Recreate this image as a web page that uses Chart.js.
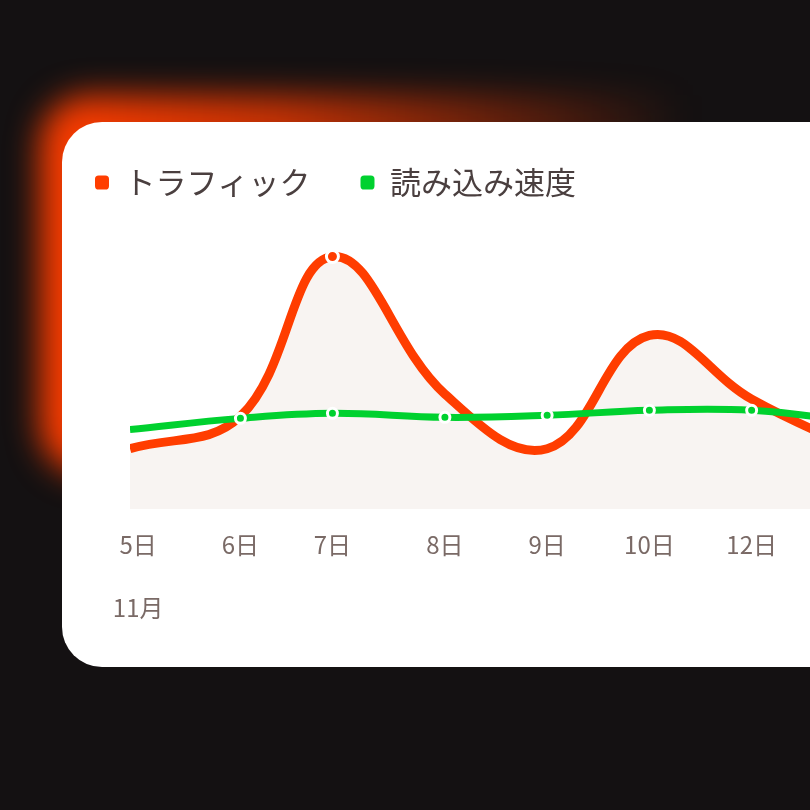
<!DOCTYPE html>
<html>
<head>
<meta charset="utf-8">
<script src="https://cdn.jsdelivr.net/npm/chart.js@4.4.0/dist/chart.umd.min.js"></script>
<style>
  html, body { margin: 0; width: 810px; height: 810px; overflow: hidden; background: #141112; }
  #glow { position: absolute; left: 40px; top: 95px; width: 680px; height: 380px; border-radius: 50px;
    background: linear-gradient(to right, #ff3d00 0%, rgba(255,61,0,0.75) 35%, rgba(255,61,0,0) 95%);
    filter: blur(16px); }
  #card { position: absolute; left: 62px; top: 122px; width: 900px; height: 545px; background: #fff; border-radius: 40px; }
  #wrap { position: absolute; left: 0; top: 117px; width: 913px; height: 518px; }
</style>
</head>
<body>
<div id="glow"></div>
<div id="card"></div>
<div id="wrap"><canvas id="chart"></canvas></div>
<script>
const tickPos = [0, 1, 1.9, 3, 4, 5, 6, 7];
const tickLabels = [['5日', '', '11月'], '6日', '7日', '8日', '9日', '10日', '12日', '13日'];
const pointX = [-0.08, 1, 1.9, 3, 4, 5, 6, 7];
const traffic = [60, 92, 250, 114, 60, 172, 109, 60];
const loadSpeed = [79, 90, 95, 91, 93, 98, 98, 87];

const toXY = vals => vals.map((v, i) => ({ x: pointX[i], y: v }));

new Chart(document.getElementById('chart'), {
    type: 'line',
    data: {
        datasets: [{
            label: 'トラフィック',
            data: toXY(traffic),
            borderColor: '#ff3d00',
            backgroundColor: '#ff5722',
            borderWidth: 9,
            tension: 0.4,
            fill: { target: 'origin', above: '#f8f4f2' },
            pointRadius: traffic.map((v, i) => i === 2 ? 6 : 0),
            pointBackgroundColor: '#ff3d00',
            pointBorderColor: '#fff',
            pointBorderWidth: 3,
            order: 2
        }, {
            label: '読み込み速度',
            data: toXY(loadSpeed),
            borderColor: '#00d12f',
            backgroundColor: '#00cc33',
            borderWidth: 7,
            tension: 0.4,
            fill: false,
            pointRadius: loadSpeed.map((v, i) => i === 0 ? 0 : 5),
            pointBackgroundColor: '#00d12f',
            pointBorderColor: '#fff',
            pointBorderWidth: 3,
            order: 1
        }]
    },
    options: {
        responsive: true,
        maintainAspectRatio: false,
        animation: false,
        layout: { padding: { left: 45, right: 0, top: 0, bottom: 0 } },
        plugins: {
            tooltip: { enabled: false },
            legend: {
                align: 'start',
                labels: {
                    usePointStyle: true,
                    pointStyle: 'rectRounded',
                    boxWidth: 14,
                    boxHeight: 14,
                    padding: 50,
                    color: '#4a3f3f',
                    font: { family: "'Noto Sans CJK JP', sans-serif", size: 31 },
                    sort: (a, b) => a.datasetIndex - b.datasetIndex
                }
            }
        },
        scales: {
            x: {
                type: 'linear',
                min: -0.08,
                max: 7.5,
                grid: { display: false },
                border: { display: false },
                afterBuildTicks: axis => { axis.ticks = tickPos.map(v => ({ value: v })); },
                ticks: {
                    autoSkip: false,
                    maxRotation: 0,
                    padding: 12,
                    color: '#7a6a66',
                    font: { family: "'Noto Sans CJK JP', sans-serif", size: 24, lineHeight: 1.3 },
                    callback: (v, i) => tickLabels[i]
                }
            },
            y: {
                display: true,
                min: 0,
                max: 298,
                grid: { display: false },
                border: { display: false },
                ticks: { display: false },
                afterFit: axis => { axis.width = 85; }
            }
        }
    }
});
</script>
</body>
</html>
